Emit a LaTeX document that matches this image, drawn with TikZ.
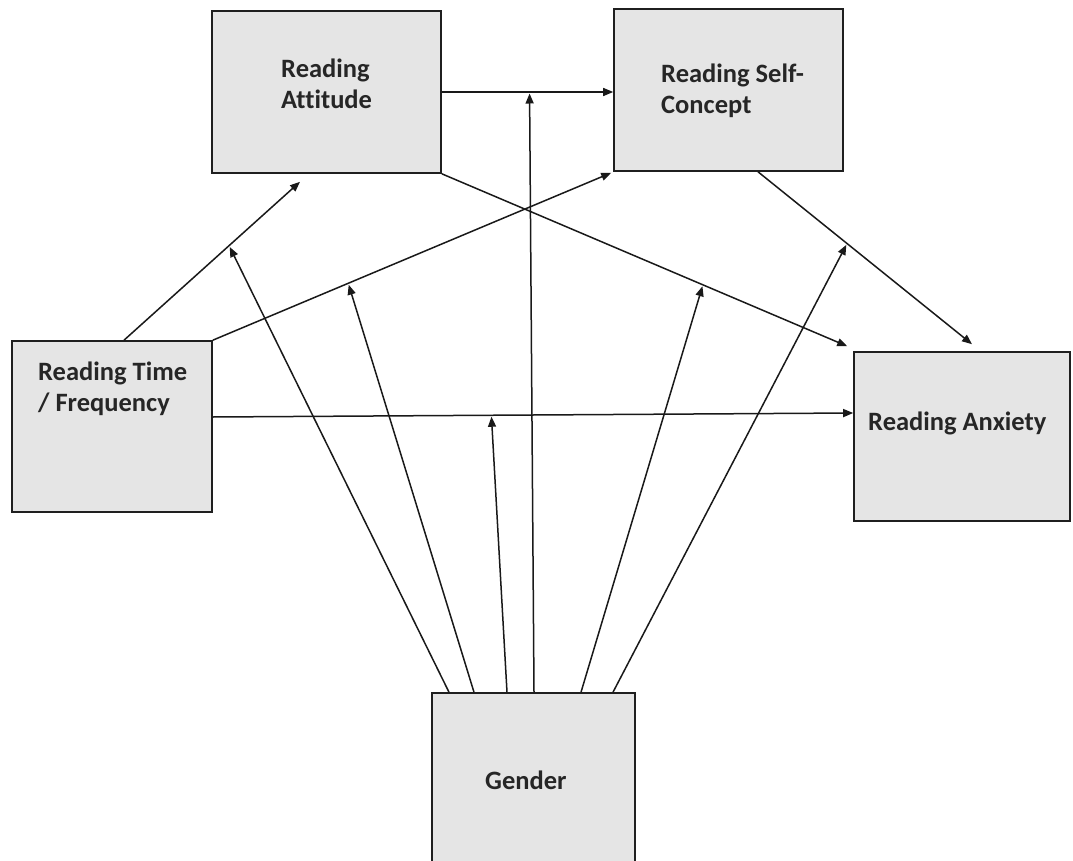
\documentclass[tikz,border=0pt]{standalone}
\usepackage{fontspec}
\setmainfont{Carlito}[Ligatures=NoCommon]
\usetikzlibrary{arrows.meta}
\definecolor{boxgrey}{RGB}{229,229,229}
\begin{document}
\begin{tikzpicture}[x=1pt,y=-1pt,
  boxnode/.style={draw=black!88, line width=1.6pt, fill=boxgrey, rectangle, inner sep=0pt},
  lbl/.style={anchor=north west, inner sep=0pt, align=left,
              font=\fontsize{26.5}{31}\selectfont\bfseries, text=black!85},
  link/.style={line width=1.5pt, draw=black!90, -{Triangle[length=10pt,width=8pt]}}]
\useasboundingbox (0,0) rectangle (1073,861);
\clip (0,0) rectangle (1073,861);

% construct boxes
\node[boxnode, minimum width=229pt, minimum height=162pt] (att) at (326.5,92) {};
\node[boxnode, minimum width=229pt, minimum height=162pt] (sc)  at (728.5,90) {};
\node[boxnode, minimum width=200pt, minimum height=171pt] (tf)  at (112,426.5) {};
\node[boxnode, minimum width=216pt, minimum height=169pt] (anx) at (962,436.5) {};
\node[boxnode, minimum width=203pt, minimum height=177pt] (gen) at (533.5,781.5) {};

% box labels
\node[lbl] (attT) at (281,59)  {Reading\\Attitude};
\node[lbl] (scT)  at (661,64)  {Reading Self-\\Concept};
\node[lbl] (tfT)  at (38,362)  {Reading Time\\/ Frequency};
\node[lbl] (anxT) at (868,412) {Reading Anxiety};
\node[lbl] (genT) at (485,771) {Gender};

% direct paths, each with a point where the moderator arrow lands
\draw[link] (att.east) -- coordinate[pos=0.512] (m1) (att.east -| sc.west);
\draw[link] ([xshift=12pt]tf.north) -- coordinate[pos=0.597] (m2) ([xshift=-26.5pt,yshift=-8pt]att.south);
\draw[link] (tf.north east) -- coordinate[pos=0.34] (m3) ([xshift=-2pt,yshift=-1pt]sc.south west);
\draw[link] ([yshift=9.5pt]tf.east) -- coordinate[pos=0.435] (m4) ([yshift=23.5pt]anx.west);
\draw[link] (att.south east) -- coordinate[pos=0.644] (m5) ([xshift=-6pt,yshift=5pt]anx.north west);
\draw[link] ([xshift=29.5pt]sc.south) -- coordinate[pos=0.416] (m6) ([xshift=10pt,yshift=7pt]anx.north);

% moderating arrows from Gender
\draw[link, shorten >=1.5pt] ([xshift=-84.5pt]gen.north) -- (m2);
\draw[link, shorten >=1.5pt] ([xshift=-59.5pt]gen.north) -- (m3);
\draw[link, shorten >=1.5pt] ([xshift=-26.5pt]gen.north) -- (m4);
\draw[link, shorten >=1.5pt] ([xshift=0.5pt]gen.north)   -- (m1);
\draw[link, shorten >=1.5pt] ([xshift=47.5pt]gen.north)  -- (m5);
\draw[link, shorten >=1.5pt] ([xshift=79.5pt]gen.north)  -- (m6);
\end{tikzpicture}
\end{document}
